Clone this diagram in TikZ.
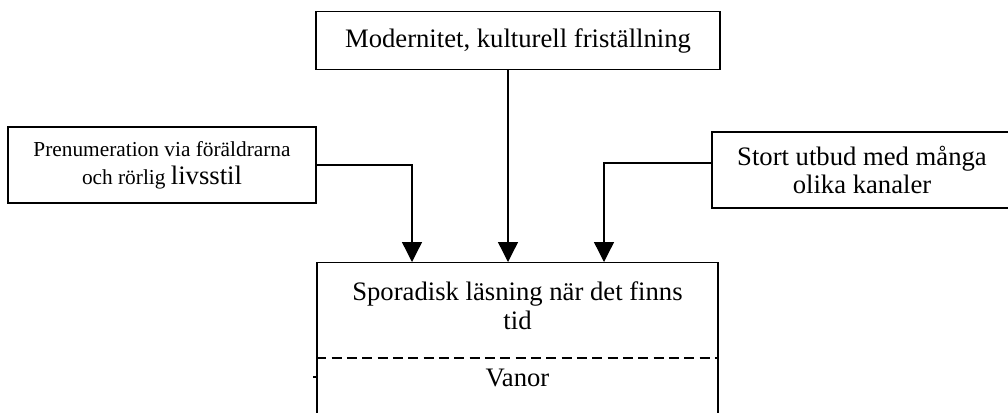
\documentclass[tikz,border=0pt]{standalone}
\usepackage{fontspec}
\setmainfont{Liberation Serif}
\usetikzlibrary{arrows.meta,positioning}

\tikzset{
  faktor/.style={draw, line width=1.1pt, align=center, inner sep=0pt,
    font=\fontsize{20}{21}\selectfont},
  pil/.style={line width=1pt, -{Triangle[length=15pt,width=15pt]}},
}

\begin{document}
\begin{tikzpicture}[x=0.75pt,y=-0.75pt]
\useasboundingbox (0,0) rectangle (1008,412);
% boxes
\node[faktor, minimum width=303pt, minimum height=43.5pt] (modern) at (518,40.5)
  {Modernitet, kulturell friställning};
\node[faktor, minimum width=231pt, minimum height=57pt, font=\fontsize{16}{21}\selectfont] (prenum) at (162,165)
  {Prenumeration via föräldrarna\\och rörlig {\fontsize{20}{21}\selectfont livsstil}};
\node[faktor, minimum width=225pt, minimum height=57pt] (utbud) at (862,170)
  {Stort utbud med många\\olika kanaler};
\node[draw, line width=1.1pt, minimum width=300.75pt, minimum height=127.5pt, anchor=north,
  inner sep=0pt] (lasning) at (517.5,262) {};
\node[align=center, font=\fontsize{20}{22}\selectfont] (sporad) at (517.5,306)
  {Sporadisk läsning när det finns\\tid};
\node[font=\fontsize{20}{21}\selectfont] (vanor) at (517.5,378) {Vanor};
\draw[dashed, line width=1pt, dash pattern=on 7.5pt off 4pt] (lasning.west |- 0,358) -- (lasning.east |- 0,358);
\draw[line width=0.8pt] (313,377) -- (lasning.west |- 0,377);
% arrows
\coordinate (in1) at (412,262);
\coordinate (in2) at (508,262);
\coordinate (in3) at (604,262);
\draw[pil] (prenum.east) -| (in1);
\draw[pil] (modern.south -| in2) -- (in2);
\draw[pil] ([yshift=5.25pt]utbud.west) -| (in3);
\end{tikzpicture}
\end{document}
